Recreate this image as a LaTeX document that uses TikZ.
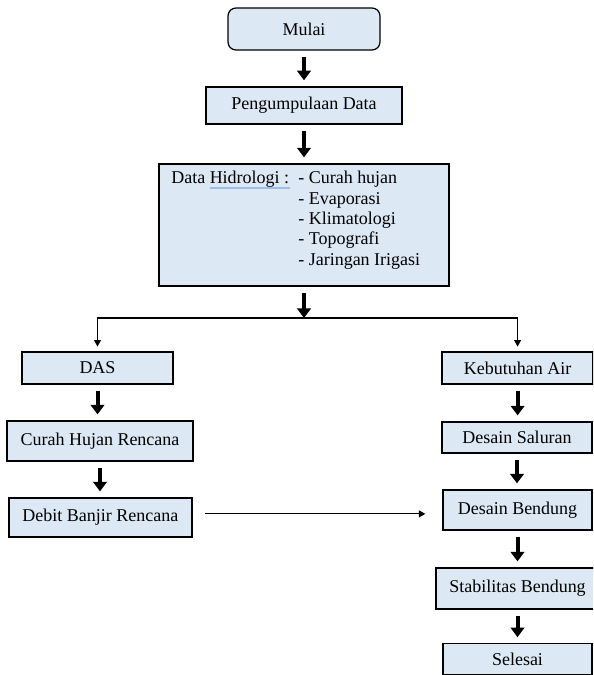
\documentclass[tikz,border=0pt]{standalone}
\usepackage{fontspec}
\setmainfont{Liberation Serif}
\usetikzlibrary{arrows.meta}
\definecolor{boxblue}{RGB}{221,232,245}
\definecolor{spellblue}{RGB}{160,188,232}

\begin{document}
\begin{tikzpicture}[
  font=\fontsize{12.8}{14.5}\selectfont,
  stepbox/.style={draw, line width=0.9pt, fill=boxblue, inner sep=0pt},
  bigarrow/.style={-{Triangle[width=0.34cm,length=0.24cm]}, line width=0.1cm, shorten <=0.15cm, shorten >=0.15cm},
  thinarrow/.style={-{Triangle[width=0.17cm,length=0.16cm]}, line width=0.8pt}
]
\useasboundingbox (0,0) rectangle (14.825,16.875);
\clip (0,0) rectangle (14.825,16.875);

% Top column
\node[stepbox, rounded corners=0.2cm, minimum width=3.8cm, minimum height=1.05cm] (mulai) at (7.6,16.15) {Mulai};
\node[stepbox, minimum width=4.9cm, minimum height=0.925cm] (kumpul) at (7.6,14.24) {Pengumpulaan Data};

% Data box with the list of data
\node[stepbox, minimum width=7.25cm, minimum height=3.05cm] (hidro) at (7.6,11.25) {};
\node[anchor=north west, inner sep=0pt] (hidrolabel) at (4.275,12.6) {Data Hidrologi :};
\node[anchor=north west, inner sep=0pt, align=left] (hidrolist) at (7.45,12.6)
  {- Curah hujan\\- Evaporasi\\- Klimatologi\\- Topografi\\- Jaringan Irigasi};
\draw[spellblue, line width=1.2pt] (5.25,12.175) -- (7.25,12.175);

% Left column
\node[stepbox, minimum width=3.775cm, minimum height=0.8cm] (das) at (2.4375,7.675) {DAS};
\node[stepbox, minimum width=4.65cm, minimum height=1cm] (hujan) at (2.5,5.85) {Curah Hujan Rencana};
\node[stepbox, minimum width=4.575cm, minimum height=0.975cm] (debit) at (2.51,3.9375) {Debit Banjir Rencana};

% Right column
\node[stepbox, minimum width=3.775cm, minimum height=0.8cm] (butuh) at (12.94,7.675) {Kebutuhan Air};
\node[stepbox, minimum width=3.75cm, minimum height=0.775cm] (saluran) at (12.925,5.9375) {Desain Saluran};
\node[stepbox, minimum width=3.725cm, minimum height=1cm] (bendung) at (12.9375,4.125) {Desain Bendung};
\node[stepbox, minimum width=4.075cm, minimum height=1.025cm] (stabil) at (12.9375,2.1625) {Stabilitas Bendung};
\node[stepbox, minimum width=3.725cm, minimum height=0.76cm] (selesai) at (12.9375,0.4) {Selesai};

% Branch point below the data box
\coordinate (split) at (7.6,8.925);

% Thick arrows
\draw[bigarrow] (mulai.south) -- (kumpul.north);
\draw[bigarrow] (kumpul.south) -- (hidro.north);
\draw[bigarrow, shorten >=0pt] (hidro.south) -- (split);
\draw[bigarrow] (das.south) -- (das.south |- hujan.north);
\draw[bigarrow] (hujan.south) -- (hujan.south |- debit.north);
\draw[bigarrow] (butuh.south) -- (butuh.south |- saluran.north);
\draw[bigarrow] (saluran.south) -- (saluran.south |- bendung.north);
\draw[bigarrow] (bendung.south) -- (bendung.south |- stabil.north);
\draw[bigarrow] (stabil.south) -- (stabil.south |- selesai.north);

% Thin arrows
\draw[thinarrow, shorten >=0.12cm] (split) -| (das);
\draw[thinarrow, shorten >=0.12cm] (split) -| (butuh);
\draw[thinarrow, shorten <=0.3cm, shorten >=0.425cm] ([yshift=0.09cm]debit.east) -- ([yshift=0.09cm]debit.east -| bendung.west);

\end{tikzpicture}
\end{document}
